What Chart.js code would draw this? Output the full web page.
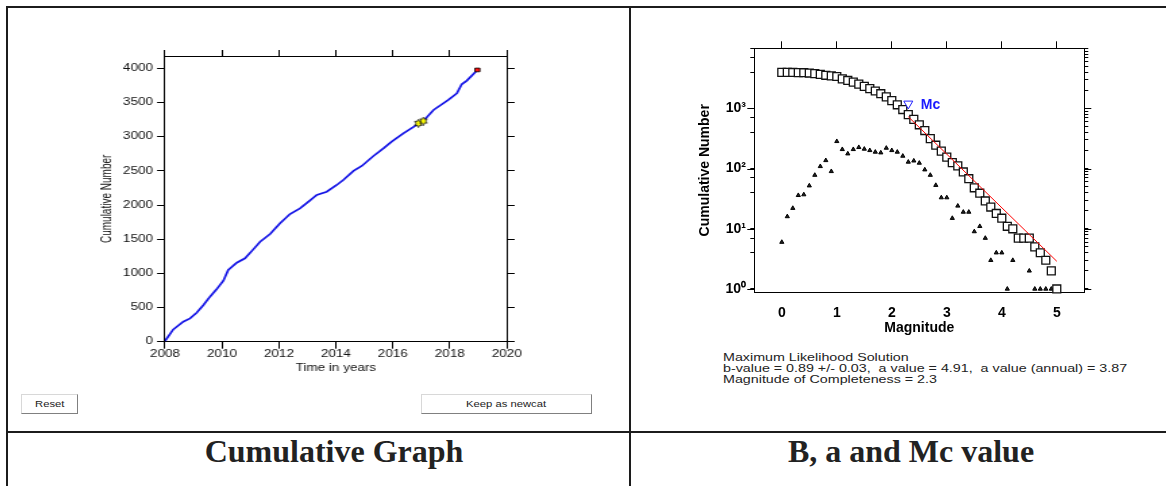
<!DOCTYPE html>
<html>
<head>
<meta charset="utf-8">
<script src="https://cdn.jsdelivr.net/npm/chart.js@4.4.1/dist/chart.umd.min.js"></script>
<style>
  html, body { margin: 0; padding: 0; background: #fff; }
  body { width: 1166px; height: 486px; position: relative; overflow: hidden;
         font-family: "Liberation Sans", Arial, Helvetica, sans-serif; }
  .rule { position: absolute; background: #1c1c1c; }
  canvas { position: absolute; transform-origin: 0 0; }
  /* the cumulative plot is drawn narrow and widened, so its text comes out wide */
  #cumCanvas { left: 80px; top: 20px; transform: scaleX(1.35); }
  #fmdCanvas { left: 690px; top: 30px; }
  .btn { position: absolute; height: 20px; box-sizing: border-box; background: #fff;
         border: 1px solid #d8d8d8; border-right-color: #808080; border-bottom-color: #808080;
         font-size: 9px; color: #222; display: flex; align-items: center; justify-content: center; }
  .btn span { display: inline-block; transform: scaleX(1.25); }
  .info { position: absolute; left: 723px; top: 351.5px; font-size: 10.5px; line-height: 11.2px;
          color: #222; white-space: pre; transform: scaleX(1.36); transform-origin: 0 0; }
  .caption { position: absolute; top: 435px; font-family: "Liberation Serif", "Times New Roman", serif;
             font-weight: bold; font-size: 32px; line-height: 32px; color: #222;
             white-space: nowrap; transform: translateX(-50%); }
</style>
</head>
<body>
<div class="rule" style="left:6px; top:6px; width:1160px; height:2px;"></div>
<div class="rule" style="left:6px; top:6px; width:2px; height:480px;"></div>
<div class="rule" style="left:629px; top:6px; width:2px; height:480px;"></div>
<div class="rule" style="left:6px; top:431px; width:1160px; height:2px;"></div>

<canvas id="cumCanvas" width="340" height="370"></canvas>
<canvas id="fmdCanvas" width="440" height="310"></canvas>

<div class="btn" style="left:21px; top:394px; width:57px;"><span>Reset</span></div>
<div class="btn" style="left:421px; top:394px; width:171px;"><span>Keep as newcat</span></div>

<div class="info">Maximum Likelihood Solution
b-value = 0.89 +/- 0.03,  a value = 4.91,  a value (annual) = 3.87
Magnitude of Completeness = 2.3</div>

<div class="caption" style="left:334px;">Cumulative Graph</div>
<div class="caption" style="left:911px;">B, a and Mc value</div>

<script>
// ---- cumulative number of events through time ----
const years = [2008.0, 2008.29, 2008.64, 2008.88, 2009.11, 2009.35, 2009.58, 2009.81, 2010.05, 2010.22,
               2010.52, 2010.81, 2011.10, 2011.34, 2011.69, 2012.04, 2012.39, 2012.74, 2013.04, 2013.33,
               2013.68, 2014.03, 2014.26, 2014.62, 2014.91, 2015.32, 2015.67, 2015.96, 2016.37, 2016.84,
               2017.08, 2017.43, 2017.95, 2018.25, 2018.42, 2018.60, 2018.97];
const cumCounts = [10, 180, 293, 341, 424, 537, 659, 766, 893, 1049,
                   1156, 1220, 1351, 1463, 1576, 1732, 1868, 1951, 2049, 2146,
                   2195, 2293, 2366, 2498, 2571, 2717, 2829, 2927, 3049, 3171,
                   3234, 3390, 3537, 3634, 3766, 3820, 3976];
const bigEventYears = [2016.90, 2017.07];
const bigEventCounts = [3195, 3229];
const lastEventYear = [2018.97];
const lastEventCount = [3976];

const yearTicks = [2008, 2010, 2012, 2014, 2016, 2018, 2020];
const countTicks = [0, 500, 1000, 1500, 2000, 2500, 3000, 3500, 4000];

// ---- frequency-magnitude distribution ----
const mags = [0.0, 0.1, 0.2, 0.3, 0.4, 0.5, 0.6, 0.7, 0.8, 0.9,
              1.0, 1.1, 1.2, 1.3, 1.4, 1.5, 1.6, 1.7, 1.8, 1.9,
              2.0, 2.1, 2.2, 2.3, 2.4, 2.5, 2.6, 2.7, 2.8, 2.9,
              3.0, 3.1, 3.2, 3.3, 3.4, 3.5, 3.6, 3.7, 3.8, 3.9,
              4.0, 4.1, 4.2, 4.3, 4.4, 4.5, 4.6, 4.7, 4.8, 4.9, 5.0];
const cumulativeN = [3980, 3975, 3965, 3950, 3930, 3880, 3800, 3680, 3560, 3480,
                     3400, 3110, 2920, 2740, 2540, 2330, 2140, 1950, 1760, 1560,
                     1350, 1150, 960, 790, 660, 535, 430, 315, 245, 195,
                     155, 126, 111, 88, 68, 48, 39, 29, 23, 18,
                     15, 11, 10, 7, 7, 7, 5, 4, 3, 2, 1];
const binN = [6, 16, 22, 36, 37, 52, 78, 109, 137, 90,
              284, 209, 177, 209, 226, 212, 201, 189, 184, 220,
              201, 189, 162, 129, 135, 124, 96, 78, 53, 33,
              33, 15, 24, 19, 19, 9, 11, 7, 3, 4,
              4, 1, 3, null, null, 2, 1, 1, 1, 1, 1];
const bValue = 0.89;
const aValue = 4.91;
const mc = 2.3;
const mcMarkY = 1200;
const fitMags = [mc, 5.0];

const magTicks = [0, 1, 2, 3, 4, 5];
const logTicks = [1, 2, 3, 4, 5, 6, 7, 8, 9, 10, 20, 30, 40, 50, 60, 70, 80, 90,
                  100, 200, 300, 400, 500, 600, 700, 800, 900,
                  1000, 2000, 3000, 4000, 5000, 6000, 7000, 8000, 9000, 10000];
const logMajors = [1, 10, 100, 1000];
const logLabels = { 1: '10\u2070', 10: '10\u00b9', 100: '10\u00b2', 1000: '10\u00b3' };

Chart.defaults.font.family = '"Liberation Sans", Arial, Helvetica, sans-serif';
Chart.defaults.color = '#111';
Chart.defaults.animation = false;

const useTicks = values => scale => { scale.ticks = values.map(v => ({ value: v })); };
const pts = (xs, ys) => xs.map((x, i) => ({ x: x, y: ys[i] }));

// yellow six-pointed star for the largest events
function hexagram(w, h) {
  const c = document.createElement('canvas');
  c.width = w; c.height = h;
  const g = c.getContext('2d');
  const cx = w / 2, cy = h / 2, rx = w / 2 - 0.5, ry = h / 2 - 0.5;
  g.beginPath();
  for (let k = 0; k < 12; k++) {
    const ang = -Math.PI / 2 + k * Math.PI / 6;
    const r = k % 2 ? 0.58 : 1;
    const px = cx + Math.cos(ang) * rx * r, py = cy + Math.sin(ang) * ry * r;
    k ? g.lineTo(px, py) : g.moveTo(px, py);
  }
  g.closePath();
  g.fillStyle = '#ffff00';
  g.fill();
  g.strokeStyle = '#000';
  g.lineWidth = 0.8;
  g.stroke();
  return c;
}

function boxAxis(axis, position, size, ticks, tickLength, extra) {
  const horizontal = axis === 'x';
  return Object.assign({
    axis: axis,
    position: position,
    afterBuildTicks: useTicks(ticks),
    afterFit: scale => { if (horizontal) scale.height = size; else scale.width = size; },
    grid: { drawOnChartArea: false, tickLength: tickLength, color: '#000' },
    border: { color: '#000', width: 1 },
    ticks: { display: false }
  }, extra);
}

new Chart(document.getElementById('cumCanvas'), {
  type: 'scatter',
  data: {
    datasets: [
      { data: pts(lastEventYear, lastEventCount), pointStyle: 'rect', pointRadius: 2.6,
        backgroundColor: '#ff1010', borderColor: '#000', borderWidth: 0.8, order: 0 },
      { data: pts(bigEventYears, bigEventCounts), pointStyle: hexagram(7, 9), order: 1 },
      { data: pts(years, cumCounts), showLine: true, borderColor: '#1414e6', borderWidth: 1.7,
        pointRadius: 0, tension: 0, order: 2 }
    ]
  },
  options: {
    responsive: false,
    plugins: { legend: { display: false }, tooltip: { enabled: false } },
    layout: { padding: 0 },
    scales: {
      x: boxAxis('x', 'bottom', 48.3, yearTicks, 7, {
        type: 'linear', min: 2008, max: 2020,
        ticks: { padding: 0, color: '#111', font: { size: 10 }, callback: v => String(v) },
        title: { display: true, text: 'Time in years', color: '#111', font: { size: 10 },
                 padding: { top: 0, bottom: 15.7 } }
      }),
      x2: boxAxis('x', 'top', 36, yearTicks, 6, { type: 'linear', min: 2008, max: 2020 }),
      y: boxAxis('y', 'left', 62.96, countTicks, 5.9, {
        type: 'linear', min: 0, max: 4180,
        ticks: { padding: 3, color: '#111', font: { size: 10 }, callback: v => String(v) },
        title: { display: true, text: 'Cumulative Number', color: '#111', font: { size: 10 },
                 padding: { top: 14.7, bottom: 0 } }
      }),
      y2: boxAxis('y', 'right', 23.93, countTicks, 5.9, { type: 'linear', min: 0, max: 4180 })
    }
  }
});

// longer marks at the decades, plus the Mc tag next to its marker
const fmdExtras = {
  id: 'fmdExtras',
  afterDraw(chart) {
    const { ctx, chartArea: a, scales } = chart;
    ctx.save();
    ctx.strokeStyle = '#000';
    ctx.lineWidth = 1;
    ctx.beginPath();
    logMajors.forEach(v => {
      const py = Math.round(scales.y.getPixelForValue(v)) + 0.5;
      ctx.moveTo(a.left - 7, py); ctx.lineTo(a.left, py);
      ctx.moveTo(a.right, py); ctx.lineTo(a.right + 7, py);
    });
    ctx.stroke();
    ctx.fillStyle = '#1a1aff';
    ctx.font = 'bold 14px "Liberation Sans", Arial, sans-serif';
    ctx.textBaseline = 'middle';
    ctx.fillText('Mc', scales.x.getPixelForValue(mc) + 12.5, scales.y.getPixelForValue(mcMarkY) + 1);
    ctx.restore();
  }
};

new Chart(document.getElementById('fmdCanvas'), {
  type: 'scatter',
  data: {
    datasets: [
      { data: fitMags.map(m => ({ x: m, y: Math.pow(10, aValue - bValue * m) })), showLine: true,
        borderColor: '#ff0000', borderWidth: 1, pointRadius: 0, order: 0 },
      { data: [{ x: mc, y: mcMarkY }], pointStyle: 'triangle', rotation: 180, pointRadius: 5.2,
        backgroundColor: '#fff', borderColor: '#2020ff', borderWidth: 1, order: 1 },
      { data: pts(mags, cumulativeN), pointStyle: 'rect', pointRadius: 5.6, clip: false,
        backgroundColor: '#fff', borderColor: '#111', borderWidth: 1.3, order: 2 },
      { data: pts(mags, binN), pointStyle: 'triangle', pointRadius: 2.4, clip: false,
        backgroundColor: '#222', borderColor: '#000', borderWidth: 1, order: 3 }
    ]
  },
  options: {
    responsive: false,
    plugins: { legend: { display: false }, tooltip: { enabled: false } },
    layout: { padding: 0 },
    scales: {
      x: boxAxis('x', 'bottom', 47.7, magTicks, 0, {
        type: 'linear', min: -0.5, max: 5.5,
        grid: { display: false },
        ticks: { padding: 4.5, color: '#000', font: { size: 14, weight: 'bold' }, callback: v => String(v) },
        title: { display: true, text: 'Magnitude', color: '#000', font: { size: 14, weight: 'bold' },
                 padding: { top: 0, bottom: 3.9 } }
      }),
      x2: boxAxis('x', 'top', 18.3, magTicks, 7, { type: 'linear', min: -0.5, max: 5.5 }),
      y: boxAxis('y', 'left', 64.3, logTicks, 4, {
        type: 'logarithmic', min: 0.88, max: 10000,
        ticks: { padding: 4.3, color: '#000', font: { size: 14, weight: 'bold' },
                 callback: v => logLabels[v] || '' },
        title: { display: true, text: 'Cumulative Number', color: '#000', font: { size: 14, weight: 'bold' },
                 padding: { top: 6.6, bottom: 0 } }
      }),
      y2: boxAxis('y', 'right', 45.7, logTicks, 4, { type: 'logarithmic', min: 0.88, max: 10000 })
    }
  },
  plugins: [fmdExtras]
});
</script>
</body>
</html>
